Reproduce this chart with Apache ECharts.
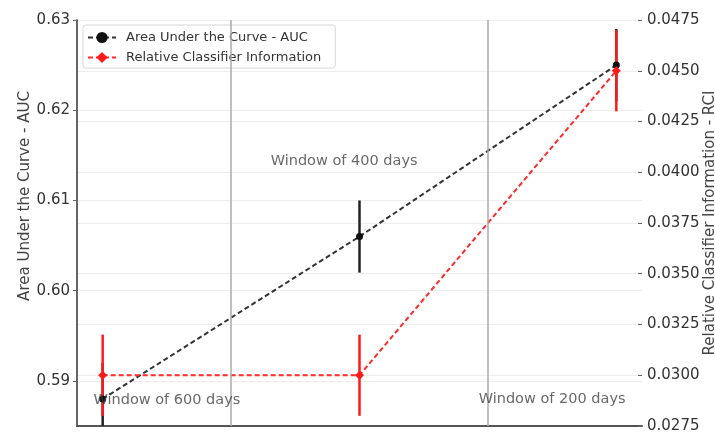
<!DOCTYPE html>
<html>
<head>
<meta charset="utf-8">
<script src="https://cdn.jsdelivr.net/npm/echarts@6/dist/echarts.min.js"></script>
<style>
html,body{margin:0;padding:0;background:#fff;}
#chart{width:715px;height:436px;}
</style>
</head>
<body>
<div id="chart"></div>
<script>
// positions along the x axis (one per time window)
const windowX = [0, 1, 2];
const windowLabels = ['Window of 600 days', 'Window of 400 days', 'Window of 200 days'];
// AUC values and error half-widths
const aucValues = [0.588, 0.606, 0.625];
const aucErrors = [0.004, 0.004, 0.004];
// RCI values and error half-widths
const rciValues = [0.0300, 0.0300, 0.0450];
const rciErrors = [0.0020, 0.0020, 0.0020];
// annotation anchor points (data coordinates on AUC axis)
const annotX = [0.25, 0.94, 1.75];
const annotY = [0.5879, 0.6143, 0.5880];
// window boundaries (vertical lines)
const windowBounds = [0.5, 1.5];
// axis ranges and tick labels
const aucRange = [0.585, 0.63];
const aucTicks = [0.59, 0.60, 0.61, 0.62, 0.63];
const rciRange = [0.0275, 0.0475];

const aucName = 'Area Under the Curve - AUC';
const rciName = 'Relative Classifier Information';

const chart = echarts.init(document.getElementById('chart'), null, {renderer: 'canvas'});

function errRender(color) {
  return function (params, api) {
    const p1 = api.coord([api.value(0), api.value(1)]);
    const p2 = api.coord([api.value(0), api.value(2)]);
    return {
      type: 'line',
      shape: {x1: p1[0], y1: p1[1], x2: p2[0], y2: p2[1]},
      style: {stroke: color, lineWidth: 2.5}
    };
  };
}

const font = 'DejaVu Sans';

chart.setOption({
  animation: false,
  textStyle: {fontFamily: font},
  grid: {left: 77, right: 73, top: 20, bottom: 10, containLabel: false, outerBoundsMode: 'none'},
  legend: {
    data: [aucName, rciName],
    orient: 'vertical',
    left: 83, top: 25,
    padding: [6, 14, 4, 4],
    itemGap: 7,
    itemWidth: 28,
    itemHeight: 14,
    backgroundColor: 'rgba(255,255,255,0.85)',
    borderColor: '#d6d6d6',
    borderWidth: 1,
    borderRadius: 3,
    textStyle: {fontSize: 13, color: '#333', fontFamily: font, padding: [0, 0, 0, 5]}
  },
  xAxis: {
    type: 'value',
    min: -0.1, max: 2.1,
    axisLine: {show: true, onZero: false, lineStyle: {color: '#555', width: 2}},
    axisTick: {show: false},
    axisLabel: {show: false},
    splitLine: {show: false}
  },
  yAxis: [
    {
      type: 'value',
      min: aucRange[0], max: aucRange[1],
      position: 'left',
      name: aucName,
      nameLocation: 'middle',
      nameRotate: 90,
      nameGap: 44,
      nameMoveOverlap: false,
      nameTextStyle: {fontSize: 15, color: '#444', padding: [0, 0, 0, 54]},
      axisLine: {show: true, onZero: false, lineStyle: {color: '#666', width: 2}},
      axisTick: {show: true, length: 4, lineStyle: {color: '#666'}, customValues: aucTicks},
      axisLabel: {fontSize: 15, color: '#333', margin: 7, customValues: aucTicks,
        formatter: v => v.toFixed(2)},
      splitLine: {show: true, lineStyle: {color: '#eeeeee', width: 1}}
    },
    {
      type: 'value',
      min: rciRange[0], max: rciRange[1], interval: 0.0025,
      position: 'right',
      name: 'Relative Classifier Information - RCI',
      nameLocation: 'middle',
      nameRotate: 90,
      nameGap: 61,
      nameMoveOverlap: false,
      nameTextStyle: {fontSize: 15, color: '#444'},
      axisLine: {show: false, onZero: false},
      axisTick: {show: true, inside: true, length: 4, lineStyle: {color: '#666'}},
      axisLabel: {fontSize: 15, color: '#333', margin: 5, formatter: v => v.toFixed(4)},
      splitLine: {show: true, lineStyle: {color: '#eeeeee', width: 1}}
    }
  ],
  series: [
    {
      name: 'AUC error',
      type: 'custom',
      yAxisIndex: 0,
      clip: true,
      renderItem: errRender('#222'),
      data: windowX.map((x, i) => [x, aucValues[i] - aucErrors[i], aucValues[i] + aucErrors[i]]),
      markLine: {
        silent: true,
        symbol: 'none',
        label: {show: false},
        lineStyle: {color: '#aaa', width: 1.5, type: 'solid'},
        data: windowBounds.map(v => ({xAxis: v}))
      }
    },
    {
      name: aucName,
      type: 'line',
      yAxisIndex: 0,
      data: windowX.map((x, i) => [x, aucValues[i]]),
      symbol: 'circle',
      symbolSize: 7,
      itemStyle: {color: '#111'},
      lineStyle: {color: '#333', width: 2, type: [5, 3]}
    },
    {
      name: 'RCI error',
      type: 'custom',
      yAxisIndex: 1,
      clip: true,
      renderItem: errRender('#ff1a1a'),
      data: windowX.map((x, i) => [x, rciValues[i] - rciErrors[i], rciValues[i] + rciErrors[i]])
    },
    {
      name: rciName,
      type: 'line',
      yAxisIndex: 1,
      data: windowX.map((x, i) => [x, rciValues[i]]),
      symbol: 'diamond',
      symbolSize: 9,
      itemStyle: {color: '#ff1a1a'},
      lineStyle: {color: '#ff2a2a', width: 2, type: [5, 3]}
    },
    {
      name: 'annotations',
      type: 'scatter',
      yAxisIndex: 0,
      symbolSize: 0,
      silent: true,
      z: 10,
      data: annotX.map((x, i) => ({value: [x, annotY[i]], label: {formatter: windowLabels[i]}})),
      label: {show: true, position: 'inside', fontSize: 14.5, color: '#444', fontFamily: font}
    }
  ]
});
</script>
</body>
</html>
